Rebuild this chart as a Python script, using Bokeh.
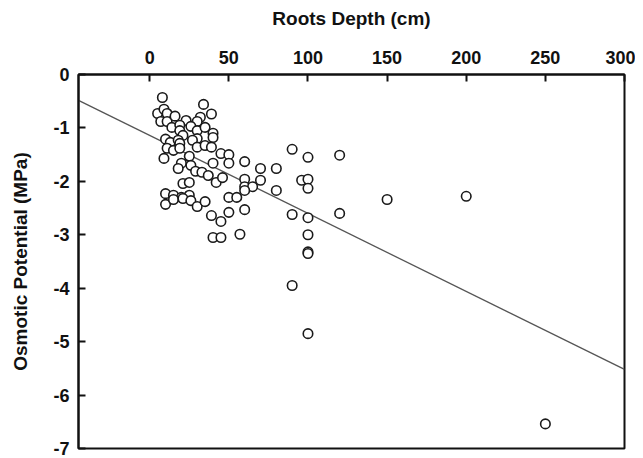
from bokeh.plotting import figure
from bokeh.models import Range1d, LinearAxis, FixedTicker, CustomJSTickFormatter
from bokeh.embed import file_html
from bokeh.resources import INLINE

# Data
root_depth = [8, 5, 9, 11, 7, 11, 16, 34, 39, 32,
              30, 23, 14, 19, 19, 26, 30, 35, 21, 40,
              40, 10, 13, 18, 19, 30, 27, 11, 15, 19,
              30, 35, 39, 9, 45, 50, 50, 25, 20, 18,
              26, 29, 33, 37, 42, 46, 40, 60, 70, 80,
              60, 60, 65, 60, 70, 80, 21, 25, 10, 15,
              20, 25, 10, 15, 21, 26, 30, 35, 50, 55,
              60, 39, 45, 50, 40, 45, 57, 90, 100, 120,
              96, 100, 100, 150, 90, 100, 120, 100, 100, 100,
              90, 100, 200, 250]
osmotic_potential = [-0.43, -0.73, -0.65, -0.73, -0.88, -0.88, -0.78, -0.56, -0.74, -0.80,
                     -0.88, -0.86, -0.99, -0.95, -1.05, -0.97, -1.05, -0.99, -1.14, -1.10,
                     -1.18, -1.21, -1.27, -1.23, -1.29, -1.20, -1.23, -1.38, -1.42, -1.38,
                     -1.36, -1.33, -1.36, -1.57, -1.48, -1.50, -1.66, -1.53, -1.66, -1.76,
                     -1.70, -1.81, -1.83, -1.89, -2.02, -1.93, -1.66, -1.63, -1.76, -1.76,
                     -1.96, -2.10, -2.10, -2.17, -1.98, -2.17, -2.04, -2.02, -2.23, -2.26,
                     -2.30, -2.26, -2.43, -2.34, -2.32, -2.36, -2.47, -2.38, -2.30, -2.30,
                     -2.53, -2.64, -2.75, -2.58, -3.05, -3.05, -2.99, -1.40, -1.55, -1.51,
                     -1.98, -1.96, -2.13, -2.34, -2.62, -2.68, -2.60, -3.00, -3.32, -3.35,
                     -3.95, -4.85, -2.28, -6.54]
fit_intercept = -1.14
fit_slope = -0.0146
x_ticks = [0, 50, 100, 150, 200, 250, 300]
y_ticks = [0, -1, -2, -3, -4, -5, -6, -7]

X_MIN, X_MAX = -45, 300
FONT = "Liberation Sans"

p = figure(width=635, height=458, output_backend="svg", toolbar_location=None,
           x_range=Range1d(X_MIN, X_MAX), y_range=Range1d(-7, 0),
           x_axis_location=None, y_axis_location=None,
           min_border_left=78, min_border_right=11, min_border_top=74, min_border_bottom=10)
p.grid.visible = False
p.outline_line_color = "#111111"
p.outline_line_width = 2
p.background_fill_color = "white"
p.border_fill_color = "white"

xaxis = LinearAxis(axis_label="Roots Depth (cm)", ticker=FixedTicker(ticks=x_ticks),
                   formatter=CustomJSTickFormatter(code="return String(tick);"))
yaxis = LinearAxis(axis_label="Osmotic Potential (MPa)", ticker=FixedTicker(ticks=y_ticks),
                   formatter=CustomJSTickFormatter(code="return String(tick);"))
for ax in (xaxis, yaxis):
    ax.axis_line_color = "#111111"
    ax.axis_line_width = 2
    ax.major_tick_line_color = "#111111"
    ax.major_tick_line_width = 2
    ax.major_tick_in = 7
    ax.major_tick_out = 0
    ax.minor_tick_line_color = None
    ax.major_label_text_font = FONT
    ax.major_label_text_font_style = "bold"
    ax.major_label_text_font_size = "18px"
    ax.major_label_text_color = "#111111"
    ax.axis_label_text_font = FONT
    ax.axis_label_text_font_style = "bold"
    ax.axis_label_text_font_size = "19px"
    ax.axis_label_text_color = "#111111"
xaxis.major_label_standoff = 11
xaxis.axis_label_standoff = 19
yaxis.major_label_standoff = 9
yaxis.axis_label_standoff = 19
p.add_layout(xaxis, "above")
p.add_layout(yaxis, "left")

# regression line across the x range
fx = [X_MIN, X_MAX]
fy = [fit_intercept + fit_slope * v for v in fx]
p.line(fx, fy, line_color="#555555", line_width=1.3)

p.scatter(root_depth, osmotic_potential, size=9.5, fill_color="white",
          line_color="#1a1a1a", line_width=1.6)

open("out.html", "w").write(file_html(p, INLINE))
